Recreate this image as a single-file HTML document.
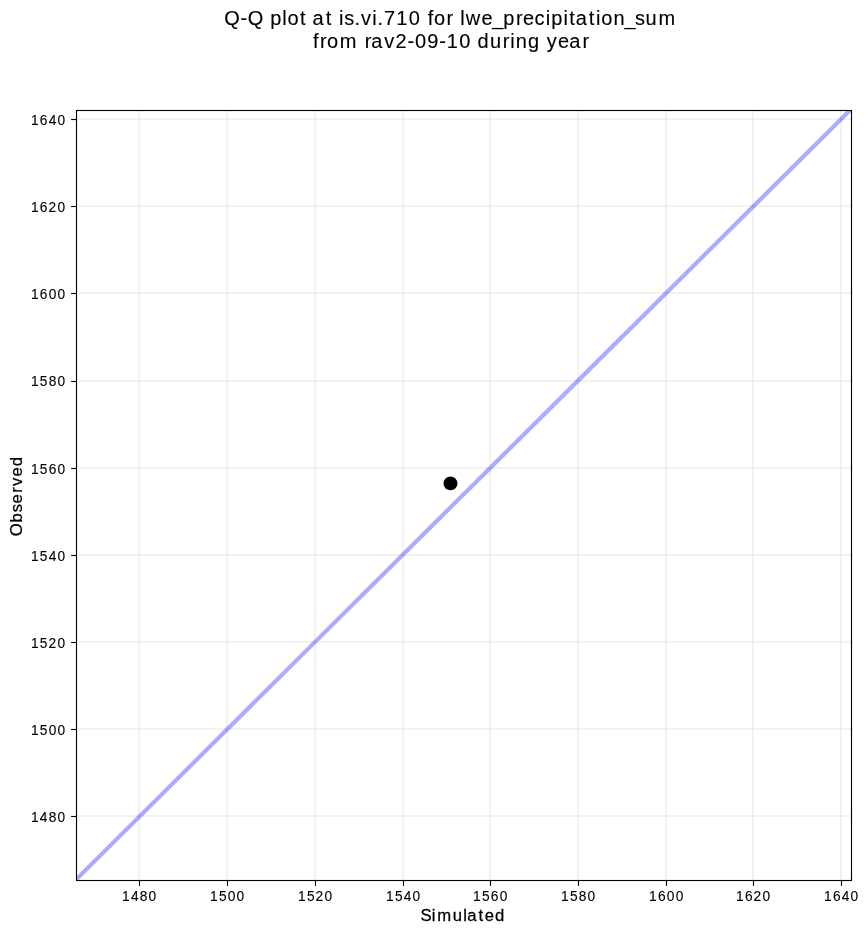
<!DOCTYPE html><html><head><meta charset="utf-8"><title>Q-Q plot</title><style>html,body{margin:0;padding:0;background:#fff;overflow:hidden;}svg{display:block;will-change:transform;}text{font-family:"Liberation Sans", sans-serif;fill:#000;stroke:#000;}.tk{stroke-width:0.12px}.lb{stroke-width:0.27px}.tt{stroke-width:0.12px}</style></head><body>
<svg width="868" height="934" viewBox="0 0 868 934">
<rect x="0" y="0" width="868" height="934" fill="#fff"/>
<g stroke="#b0b0b0" stroke-opacity="0.16" stroke-width="2">
<line x1="139" y1="110.5" x2="139" y2="880.5"/>
<line x1="227" y1="110.5" x2="227" y2="880.5"/>
<line x1="315" y1="110.5" x2="315" y2="880.5"/>
<line x1="403" y1="110.5" x2="403" y2="880.5"/>
<line x1="490" y1="110.5" x2="490" y2="880.5"/>
<line x1="578" y1="110.5" x2="578" y2="880.5"/>
<line x1="666" y1="110.5" x2="666" y2="880.5"/>
<line x1="753" y1="110.5" x2="753" y2="880.5"/>
<line x1="841" y1="110.5" x2="841" y2="880.5"/>
<line x1="76.5" y1="816" x2="851.5" y2="816"/>
<line x1="76.5" y1="729" x2="851.5" y2="729"/>
<line x1="76.5" y1="642" x2="851.5" y2="642"/>
<line x1="76.5" y1="555" x2="851.5" y2="555"/>
<line x1="76.5" y1="468" x2="851.5" y2="468"/>
<line x1="76.5" y1="381" x2="851.5" y2="381"/>
<line x1="76.5" y1="293" x2="851.5" y2="293"/>
<line x1="76.5" y1="206" x2="851.5" y2="206"/>
<line x1="76.5" y1="119" x2="851.5" y2="119"/>
</g>
<clipPath id="ax"><rect x="76.50" y="110.50" width="775.00" height="770.00"/></clipPath>
<line clip-path="url(#ax)" x1="56.50" y1="898.98" x2="869.80" y2="90.62" stroke="#0000ff" stroke-opacity="0.33" stroke-width="4.17"/>
<circle cx="450.5" cy="483.4" r="6.95" fill="#000"/>
<rect x="76.50" y="110.50" width="775.00" height="770.00" fill="none" stroke="#000" stroke-width="1.11"/>
<g stroke="#000" stroke-width="1.11">
<line x1="139.5" y1="880.5" x2="139.5" y2="885.90"/>
<line x1="227.5" y1="880.5" x2="227.5" y2="885.90"/>
<line x1="315.5" y1="880.5" x2="315.5" y2="885.90"/>
<line x1="403.5" y1="880.5" x2="403.5" y2="885.90"/>
<line x1="490.5" y1="880.5" x2="490.5" y2="885.90"/>
<line x1="578.5" y1="880.5" x2="578.5" y2="885.90"/>
<line x1="666.5" y1="880.5" x2="666.5" y2="885.90"/>
<line x1="753.5" y1="880.5" x2="753.5" y2="885.90"/>
<line x1="841.5" y1="880.5" x2="841.5" y2="885.90"/>
<line x1="71.10" y1="816.5" x2="76.5" y2="816.5"/>
<line x1="71.10" y1="729.5" x2="76.5" y2="729.5"/>
<line x1="71.10" y1="642.5" x2="76.5" y2="642.5"/>
<line x1="71.10" y1="555.5" x2="76.5" y2="555.5"/>
<line x1="71.10" y1="468.5" x2="76.5" y2="468.5"/>
<line x1="71.10" y1="381.5" x2="76.5" y2="381.5"/>
<line x1="71.10" y1="293.5" x2="76.5" y2="293.5"/>
<line x1="71.10" y1="206.5" x2="76.5" y2="206.5"/>
<line x1="71.10" y1="119.5" x2="76.5" y2="119.5"/>
</g>
<g transform="translate(139.50,0) scale(0.960,1) translate(-139.50,0)"><text x="121.33 130.60 139.81 149.01" y="901.00" font-size="14.3" class="tk">1480</text></g>
<g transform="translate(48.40,0) scale(0.960,1) translate(-48.40,0)"><text x="30.23 39.50 48.71 57.91" y="822.00" font-size="14.3" class="tk">1480</text></g>
<g transform="translate(227.50,0) scale(0.960,1) translate(-227.50,0)"><text x="209.33 218.55 227.81 237.01" y="901.00" font-size="14.3" class="tk">1500</text></g>
<g transform="translate(48.40,0) scale(0.960,1) translate(-48.40,0)"><text x="30.23 39.45 48.71 57.91" y="735.00" font-size="14.3" class="tk">1500</text></g>
<g transform="translate(315.50,0) scale(0.960,1) translate(-315.50,0)"><text x="297.33 306.55 315.62 325.01" y="901.00" font-size="14.3" class="tk">1520</text></g>
<g transform="translate(48.40,0) scale(0.960,1) translate(-48.40,0)"><text x="30.23 39.45 48.52 57.91" y="648.00" font-size="14.3" class="tk">1520</text></g>
<g transform="translate(403.50,0) scale(0.960,1) translate(-403.50,0)"><text x="385.33 394.55 403.80 413.01" y="901.00" font-size="14.3" class="tk">1540</text></g>
<g transform="translate(48.40,0) scale(0.960,1) translate(-48.40,0)"><text x="30.23 39.45 48.70 57.91" y="561.00" font-size="14.3" class="tk">1540</text></g>
<g transform="translate(490.50,0) scale(0.960,1) translate(-490.50,0)"><text x="472.33 481.55 490.81 500.01" y="901.00" font-size="14.3" class="tk">1560</text></g>
<g transform="translate(48.40,0) scale(0.960,1) translate(-48.40,0)"><text x="30.23 39.45 48.71 57.91" y="474.00" font-size="14.3" class="tk">1560</text></g>
<g transform="translate(578.50,0) scale(0.960,1) translate(-578.50,0)"><text x="560.33 569.55 578.81 588.01" y="901.00" font-size="14.3" class="tk">1580</text></g>
<g transform="translate(48.40,0) scale(0.960,1) translate(-48.40,0)"><text x="30.23 39.45 48.71 57.91" y="386.00" font-size="14.3" class="tk">1580</text></g>
<g transform="translate(666.50,0) scale(0.960,1) translate(-666.50,0)"><text x="648.33 657.61 666.81 676.01" y="901.00" font-size="14.3" class="tk">1600</text></g>
<g transform="translate(48.40,0) scale(0.960,1) translate(-48.40,0)"><text x="30.23 39.51 48.71 57.91" y="299.00" font-size="14.3" class="tk">1600</text></g>
<g transform="translate(753.50,0) scale(0.960,1) translate(-753.50,0)"><text x="735.33 744.61 753.62 763.01" y="901.00" font-size="14.3" class="tk">1620</text></g>
<g transform="translate(48.40,0) scale(0.960,1) translate(-48.40,0)"><text x="30.23 39.51 48.52 57.91" y="212.00" font-size="14.3" class="tk">1620</text></g>
<g transform="translate(841.50,0) scale(0.960,1) translate(-841.50,0)"><text x="823.33 832.61 841.80 851.01" y="901.00" font-size="14.3" class="tk">1640</text></g>
<g transform="translate(48.40,0) scale(0.960,1) translate(-48.40,0)"><text x="30.23 39.51 48.70 57.91" y="125.00" font-size="14.3" class="tk">1640</text></g>
<g transform="translate(462.70,0) scale(0.980,1) translate(-462.70,0)"><text x="419.76 431.22 436.71 452.65 463.28 467.39 478.89 485.16 495.64" y="920.80" font-size="17.0" class="lb">Simulated</text></g>
<g transform="translate(22.0,496.5) rotate(-90)"><g transform="translate(0.00,0) scale(0.980,1) translate(0.00,0)"><text x="-40.53 -26.44 -16.14 -7.04 3.90 10.66 20.48 30.97" y="0.00" font-size="17.0" class="lb">Observed</text></g></g>
<text x="224.30 240.44 247.86 253.86 270.21 282.29 287.61 300.09 306.09 312.59 325.81 331.81 339.12 344.24 354.47 361.10 372.34 377.56 384.02 396.33 408.80 414.80 427.63 433.97 446.52 452.52 460.13 465.77 481.41 492.25 503.37 516.03 522.99 534.62 545.68 551.33 563.42 569.32 575.63 588.86 595.99 601.29 613.44 624.46 635.04 645.53 658.49" y="25.00" font-size="20.0" class="tt">Q-Q plot at is.vi.710 for lwe_precipitation_sum</text>
<text x="313.08 320.08 326.97 339.67 345.67 364.65 371.27 384.26 395.38 407.57 415.02 427.33 439.32 446.68 459.15 465.15 477.57 489.99 502.80 510.23 515.79 527.96 533.96 546.74 557.96 569.13 582.43" y="48.00" font-size="20.0" class="tt">from rav2-09-10 during year</text>
</svg></body></html>
